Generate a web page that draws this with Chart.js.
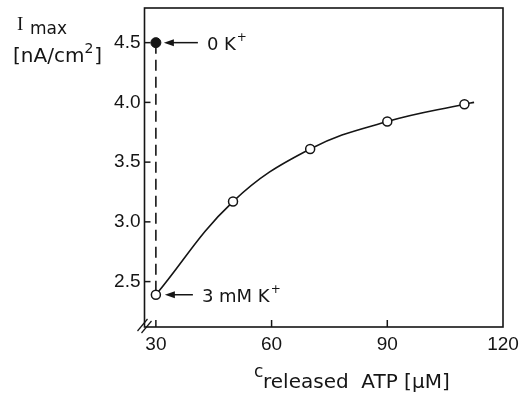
<!DOCTYPE html>
<html>
<head>
<meta charset="utf-8">
<script src="https://cdn.jsdelivr.net/npm/chart.js@4"></script>
<style>
  html, body { margin: 0; padding: 0; background: #fff; }
  #wrap { width: 522px; height: 396px; }
</style>
</head>
<body>
<div id="wrap"><canvas id="imaxChart" width="522" height="396"></canvas></div>
<script>
// values
const xTicks = [30, 60, 90, 120];
const yTicks = [2.5, 3.0, 3.5, 4.0, 4.5];
const atpConc = [30, 50, 70, 90, 110];
const iMax3mMK = [2.39, 3.17, 3.61, 3.84, 3.985];
const curveTail = [112.5, 4.0];      // short stub drawn past the last circle
const atp0K = 30;
const iMax0K = 4.5;

const ink = '#151515';
const sans = '"DejaVu Sans", sans-serif';
const tickFont = '"Liberation Sans", Arial, sans-serif';

const curveData = atpConc.map((x, i) => ({ x: x, y: iMax3mMK[i] }));
curveData.push({ x: curveTail[0], y: curveTail[1] });

function arrowLabel(ctx, px, py, gapStart, gapEnd, text) {
  ctx.beginPath();
  ctx.moveTo(px + gapStart + 7, py);
  ctx.lineTo(px + gapEnd, py);
  ctx.stroke();
  ctx.beginPath();
  ctx.moveTo(px + gapStart, py);
  ctx.lineTo(px + gapStart + 10, py - 3.5);
  ctx.lineTo(px + gapStart + 10, py + 3.5);
  ctx.closePath();
  ctx.fill();
  ctx.font = '18px ' + sans;
  ctx.textBaseline = 'alphabetic';
  ctx.textAlign = 'left';
  const tx = px + gapEnd + 9;
  ctx.fillText(text, tx, py + 7);
  const w = ctx.measureText(text).width;
  ctx.font = '12px ' + sans;
  ctx.fillText('+', tx + w + 1, py - 2);
}

const decor = {
  id: 'decor',
  afterDatasetsDraw(chart) {
    const ctx = chart.ctx;
    const a = chart.chartArea;
    const xs = chart.scales.x, ys = chart.scales.y;
    ctx.save();
    ctx.strokeStyle = ink;
    ctx.fillStyle = ink;
    ctx.lineWidth = 1.6;
    ctx.strokeRect(a.left, a.top, a.right - a.left, a.bottom - a.top);

    // inward tick marks
    ctx.lineWidth = 1.5;
    yTicks.forEach(v => {
      const y = ys.getPixelForValue(v);
      ctx.beginPath(); ctx.moveTo(a.left, y); ctx.lineTo(a.left + 6, y); ctx.stroke();
    });
    xTicks.slice(0, -1).forEach(v => {
      const x = xs.getPixelForValue(v);
      ctx.beginPath(); ctx.moveTo(x, a.bottom); ctx.lineTo(x, a.bottom - 7); ctx.stroke();
    });

    // axis break marks at the corner
    ctx.lineWidth = 1.2;
    [[-7, 4], [-3, 6]].forEach(([dx, dy]) => {
      ctx.beginPath();
      ctx.moveTo(a.left + dx, a.bottom + dy);
      ctx.lineTo(a.left + dx + 10, a.bottom + dy - 12);
      ctx.stroke();
    });

    // annotations
    ctx.lineWidth = 1.5;
    const p0 = { x: xs.getPixelForValue(atp0K), y: ys.getPixelForValue(iMax0K) };
    arrowLabel(ctx, p0.x, p0.y, 8, 42, '0 K');
    const p3 = { x: xs.getPixelForValue(atpConc[0]), y: ys.getPixelForValue(iMax3mMK[0]) };
    arrowLabel(ctx, p3.x, p3.y, 9, 37, '3 mM K');

    // y title
    ctx.textAlign = 'left';
    ctx.textBaseline = 'alphabetic';
    ctx.font = '19px "Liberation Serif", serif';
    ctx.fillText('I', 17, 30);
    ctx.font = '17px ' + sans;
    ctx.fillText('max', 30, 34);
    ctx.font = '20px ' + sans;
    ctx.fillText('[nA/cm', 13, 62);
    let w = ctx.measureText('[nA/cm').width;
    ctx.font = '14px ' + sans;
    ctx.fillText('2', 13 + w, 53);
    let w2 = ctx.measureText('2').width;
    ctx.font = '20px ' + sans;
    ctx.fillText(']', 13 + w + w2 + 1, 62);

    // x title
    ctx.font = '17px ' + sans;
    ctx.fillText('c', 254, 377);
    ctx.font = '20px ' + sans;
    ctx.fillText('released  ATP [\u00b5M]', 263, 388);
    ctx.restore();
  }
};

function noPad(s) {
  s.paddingTop = 0; s.paddingBottom = 0; s.paddingLeft = 0; s.paddingRight = 0;
}

new Chart(document.getElementById('imaxChart'), {
  type: 'scatter',
  data: {
    datasets: [
      {
        data: curveData,
        showLine: true,
        tension: 0.4,
        borderColor: ink,
        borderWidth: 1.6,
        pointRadius: curveData.map((p, i) => i < atpConc.length ? 4.5 : 0),
        pointBackgroundColor: '#fff',
        pointBorderColor: ink,
        pointBorderWidth: 1.5
      },
      {
        data: [{ x: atp0K, y: iMax0K }],
        pointRadius: 5,
        pointBackgroundColor: ink,
        pointBorderColor: ink
      },
      {
        data: [{ x: atp0K, y: iMax0K }, { x: atpConc[0], y: iMax3mMK[0] + 0.04 }],
        showLine: true,
        borderColor: ink,
        borderWidth: 1.6,
        borderDash: [11, 6],
        pointRadius: 0
      }
    ]
  },
  options: {
    responsive: false,
    animation: false,
    layout: { padding: { top: 8, right: 19, left: 0, bottom: 0 } },
    plugins: { legend: { display: false }, tooltip: { enabled: false } },
    scales: {
      x: {
        type: 'linear',
        min: 27.05,
        max: 120,
        afterBuildTicks: s => { s.ticks = xTicks.map(v => ({ value: v })); },
        afterFit: s => { s.height = 69; noPad(s); },
        grid: { display: false, drawTicks: false },
        border: { display: false },
        ticks: { color: ink, padding: 6, font: { family: tickFont, size: 19 } }
      },
      y: {
        type: 'linear',
        min: 2.12,
        max: 4.79,
        afterBuildTicks: s => { s.ticks = yTicks.map(v => ({ value: v })); },
        afterFit: s => { s.width = 144.5; noPad(s); },
        grid: { display: false, drawTicks: false },
        border: { display: false },
        ticks: {
          color: ink, padding: 4, font: { family: tickFont, size: 19 },
          callback: v => v.toFixed(1)
        }
      }
    }
  },
  plugins: [decor]
});
</script>
</body>
</html>
